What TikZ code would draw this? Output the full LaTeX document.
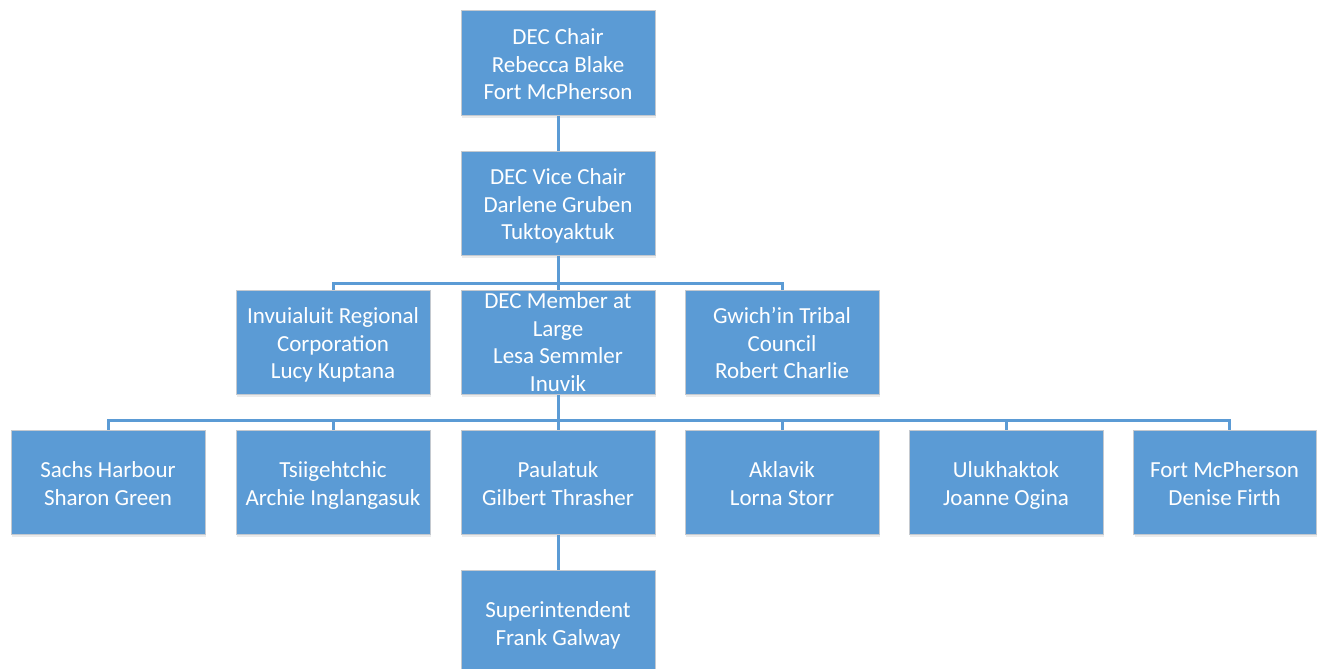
\documentclass[tikz,border=0pt]{standalone}
\usepackage{fontspec}
\setmainfont{Carlito}
\definecolor{boxblue}{HTML}{5B9BD5}
\definecolor{boxedge}{HTML}{C4C9CF}
\definecolor{linkblue}{HTML}{5B9BD5}
\newcommand\toprule{\rule{0pt}{27pt}}
\begin{document}
\begin{tikzpicture}[x=1pt,y=-1pt,
  orgbox/.style={draw=boxedge, line width=1pt, fill=boxblue, text=white,
    minimum width=194pt, minimum height=104pt, inner sep=0pt, align=center,
    font=\fontsize{23}{27.5}\selectfont},
  link/.style={draw=linkblue, line width=3pt}]
\useasboundingbox (0,0) rectangle (1317,669);
\clip (0,0) rectangle (1317,669);
% shadows
\foreach \x/\y in {558/63,558/203,333/342,558/342,782/342,108/482,333/482,558/482,782/482,1006/482,558/622}
  \fill[black!8] (\x-96,\y-50) rectangle (\x+98,\y+55);
\fill[black!8] (1135,432) rectangle (1318,537);
% nodes
\node[orgbox] (chair) at (558,63) {\toprule DEC Chair\\Rebecca Blake\\Fort McPherson\strut};
\node[orgbox] (vice) at (558,203) {\toprule DEC Vice Chair\\Darlene Gruben\\Tuktoyaktuk\strut};
\node[orgbox] (irc) at (333,342) {\toprule Invuialuit Regional\\Corporation\\Lucy Kuptana\strut};
\node[orgbox] (mal) at (558,342) {DEC Member at\\Large\\Lesa Semmler\\Inuvik};
\node[orgbox] (gtc) at (782,342) {\toprule Gwich’in Tribal\\Council\\Robert Charlie\strut};
\node[orgbox] (sachs) at (108,482) {\toprule Sachs Harbour\\Sharon Green\strut};
\node[orgbox] (tsii) at (333,482) {\toprule Tsiigehtchic\\Archie Inglangasuk\strut};
\node[orgbox] (paul) at (558,482) {\toprule Paulatuk\\Gilbert Thrasher\strut};
\node[orgbox] (akl) at (782,482) {\toprule Aklavik\\Lorna Storr\strut};
\node[orgbox] (ulu) at (1006,482) {\toprule Ulukhaktok\\Joanne Ogina\strut};
\node[orgbox, minimum width=183pt] (fmp) at (1224.5,482) {\toprule Fort McPherson\\Denise Firth\strut};
\node[orgbox] (sup) at (558,622) {\toprule Superintendent\\Frank Galway\strut};
% connectors
\coordinate (busA) at (558,283);
\coordinate (busB) at (558,420);
\draw[link] (chair.south) -- (vice.north);
\draw[link] (vice.south) -- (mal.north);
\draw[link] (busA) -| (irc.north);
\draw[link] (busA) -| (gtc.north);
\draw[link] (mal.south) -- (paul.north);
\draw[link] (busB) -| (sachs.north);
\draw[link] (busB) -| (tsii.north);
\draw[link] (busB) -| (akl.north);
\draw[link] (busB) -| (ulu.north);
\draw[link] (busB) -| ([xshift=4.5pt]fmp.north);
\draw[link] (paul.south) -- (sup.north);
\end{tikzpicture}
\end{document}
